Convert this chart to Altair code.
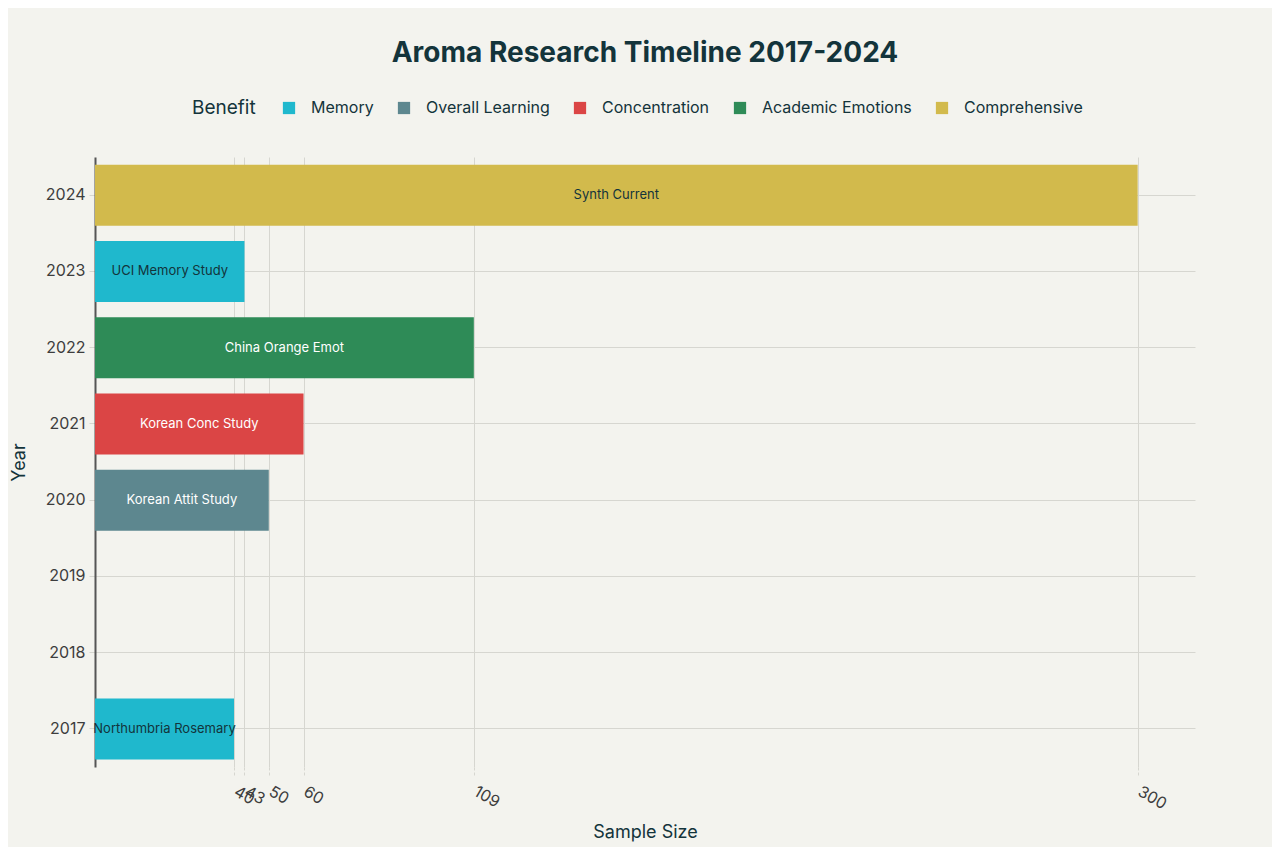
import altair as alt
import pandas as pd

years = ["2017", "2020", "2021", "2022", "2023", "2024"]
studies = ["Northumbria Rosemary", "Korean Attit Study", "Korean Conc Study",
           "China Orange Emot", "UCI Memory Study", "Synth Current"]
sample_sizes = [40, 50, 60, 109, 43, 300]
benefits = ["Memory", "Overall Learning", "Concentration", "Academic Emotions",
            "Memory", "Comprehensive"]

year_domain = ["2024", "2023", "2022", "2021", "2020", "2019", "2018", "2017"]
benefit_order = ["Memory", "Overall Learning", "Concentration", "Academic Emotions", "Comprehensive"]
benefit_colors = ["#1FB8CD", "#5D878F", "#DB4545", "#2E8B57", "#D2BA4C"]
tick_values = [40, 43, 50, 60, 109, 300]

df = pd.DataFrame({"Year": years, "Study": studies, "Sample Size": sample_sizes, "Benefit": benefits})

FONT = "Inter"

y_enc = alt.Y("Year:N", scale=alt.Scale(domain=year_domain, paddingInner=0.2, paddingOuter=0.1),
              axis=alt.Axis(title="Year", bandPosition=0.5, grid=True, gridColor="#d6d6d0",
                            domain=True, domainColor="#555555", domainWidth=2,
                            ticks=True, tickColor="#d6d6d0", tickSize=6,
                            labelFontSize=16, labelColor="#3d3d3d", labelPadding=4,
                            titleFontSize=18, titleColor="#13343B", titleFontWeight="normal",
                            titlePadding=17))

x_scale = alt.Scale(domain=[0, 316.5], nice=False, zero=True)

bars = alt.Chart(df).mark_bar().encode(
    x=alt.X("Sample Size:Q", scale=x_scale,
            axis=alt.Axis(title="Sample Size", values=tick_values, grid=True, gridColor="#d6d6d0",
                          domain=False, ticks=True, tickColor="#d6d6d0", tickDash=[3, 2], tickSize=8,
                          labelAngle=30, labelAlign="left", labelBaseline="top",
                          labelFontSize=16, labelColor="#3d3d3d", labelPadding=8,
                          labelOffset=5, labelOverlap=False,
                          titleFontSize=18, titleColor="#13343B", titleFontWeight="normal",
                          titlePadding=12)),
    y=y_enc,
    color=alt.Color("Benefit:N", scale=alt.Scale(domain=benefit_order, range=benefit_colors),
                    legend=alt.Legend(orient="none", direction="horizontal", legendX=97, legendY=-57,
                                      titleOrient="left", title="Benefit", titleFontSize=19,
                                      titleFontWeight="normal", titleColor="#13343B", titlePadding=25,
                                      labelFontSize=16, labelColor="#13343B", symbolType="square",
                                      symbolSize=150, symbolStrokeWidth=0, labelOffset=14,
                                      columnPadding=22, columns=5)),
)

texts = alt.Chart(df).transform_calculate(mid="datum['Sample Size'] / 2").mark_text(
    fontSize=13, font=FONT
).encode(
    x=alt.X("mid:Q", scale=x_scale),
    y=alt.Y("Year:N", scale=alt.Scale(domain=year_domain, paddingInner=0.2, paddingOuter=0.1)),
    text="Study:N",
    color=alt.condition("datum.Benefit == 'Memory' || datum.Benefit == 'Comprehensive'",
                        alt.value("#13343B"), alt.value("#ffffff")),
)

chart = alt.layer(bars, texts).properties(
    width=1100, height=610,
    title=alt.TitleParams("Aroma Research Timeline 2017-2024", fontSize=28, fontWeight="bold",
                          color="#13343B", anchor="middle", offset=32, font=FONT),
    autosize=alt.AutoSizeParams(type="none"),
    padding={"left": 87, "top": 149, "right": 77, "bottom": 80},
    background="#F3F3EE",
).configure(font=FONT).configure_view(stroke=None)

chart.save("out.html", embed_options={"renderer": "svg", "actions": False})
